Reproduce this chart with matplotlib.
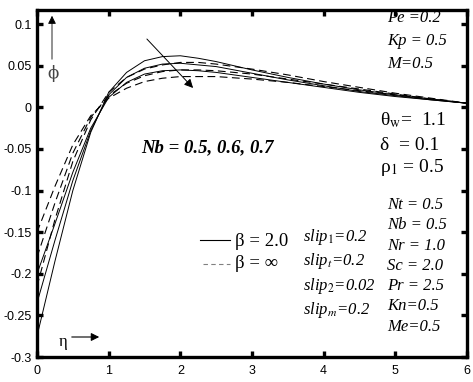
import matplotlib
matplotlib.use("Agg")
import matplotlib.pyplot as plt

plt.rcParams['mathtext.fontset'] = 'stix'

eta = [0, 0.25, 0.5, 0.75, 1.0, 1.25, 1.5, 1.75, 2.0, 2.25, 2.5, 3.0, 3.5, 4.0, 4.5, 5.0, 5.5, 6.0]

# beta = 2.0 (solid), Nb = 0.5, 0.6, 0.7
phi_s_05 = [-0.275, -0.185, -0.100, -0.030, 0.018, 0.042, 0.056, 0.061, 0.062, 0.059, 0.055, 0.045, 0.036, 0.028, 0.021, 0.015, 0.010, 0.005]
phi_s_06 = [-0.235, -0.160, -0.088, -0.028, 0.015, 0.036, 0.047, 0.052, 0.053, 0.051, 0.049, 0.041, 0.033, 0.026, 0.019, 0.014, 0.009, 0.005]
phi_s_07 = [-0.200, -0.140, -0.078, -0.025, 0.012, 0.030, 0.040, 0.044, 0.045, 0.044, 0.042, 0.036, 0.030, 0.024, 0.018, 0.013, 0.009, 0.005]
# beta = inf (dashed)
phi_d_05 = [-0.215, -0.135, -0.065, -0.015, 0.018, 0.036, 0.046, 0.051, 0.054, 0.054, 0.052, 0.046, 0.039, 0.031, 0.024, 0.017, 0.011, 0.005]
phi_d_06 = [-0.180, -0.115, -0.055, -0.012, 0.014, 0.029, 0.038, 0.043, 0.045, 0.045, 0.044, 0.040, 0.034, 0.028, 0.022, 0.016, 0.010, 0.005]
phi_d_07 = [-0.150, -0.095, -0.045, -0.010, 0.011, 0.023, 0.031, 0.035, 0.037, 0.037, 0.037, 0.034, 0.030, 0.025, 0.020, 0.015, 0.010, 0.005]

xticks = [0, 1, 2, 3, 4, 5, 6]
yticks = [-0.3, -0.25, -0.2, -0.15, -0.1, -0.05, 0, 0.05, 0.1]
yticklabels = ['-0.3', '-0.25', '-0.2', '-0.15', '-0.1', '-0.05', '0', '0.05', '0.1']

fig = plt.figure(figsize=(4.73, 3.82), dpi=100)
ax = fig.add_axes([37/473, 25/382, 430/473, 347/382])

for ys in (phi_s_05, phi_s_06, phi_s_07):
    ax.plot(eta, ys, color='black', lw=0.7, ls='-')
for ys in (phi_d_05, phi_d_06, phi_d_07):
    ax.plot(eta, ys, color='black', lw=0.8, ls=(0, (7, 4)))

ax.set_xlim(0, 6)
ax.set_ylim(-0.3, 0.117)
ax.set_xticks(xticks)
ax.set_xticklabels([str(t) for t in xticks])
ax.set_yticks(yticks)
ax.set_yticklabels(yticklabels)
for s in ax.spines.values():
    s.set_linewidth(2.4)
ax.tick_params(direction='in', length=4, width=2.4, top=True, right=True,
               labelsize=9, pad=4)
ax.tick_params(axis='x', pad=6)
for lab in ax.get_xticklabels() + ax.get_yticklabels():
    lab.set_fontfamily('Liberation Sans')

serif = 'Liberation Serif'

def px(x, y):
    return ((x - 37) / 430, (357 - y) / 347)

def T(x, y, s, size=12, style='italic', weight='normal', ha='left'):
    ax.text(*px(x, y), s, transform=ax.transAxes, fontsize=size, family=serif,
            style=style, weight=weight, ha=ha, va='center')

# top right block
T(387, 18, 'Pe =0.2')
T(387, 41, 'Kp = 0.5')
T(387, 64, 'M=0.5')

# theta, delta, rho block
T(380, 120, r'θ$_{\mathrm{w}}$=  1.1', size=14, style='normal')
T(380, 145, 'δ  = 0.1', size=14, style='normal')
T(380, 168, r'ρ$_{\mathrm{1}}$ = 0.5', size=14, style='normal')

# Nb label
T(141, 148, 'Nb = 0.5, 0.6, 0.7', size=13.5, weight='bold')

# legend
ax.plot([(200 - 37) / 71.667, (230 - 37) / 71.667], [(107 - 240) / 834] * 2,
        color='black', lw=0.8)
ax.plot([(203 - 37) / 71.667, (230 - 37) / 71.667], [(107 - 264) / 834] * 2,
        color='gray', lw=0.8, ls=(0, (4, 3)))
T(235, 241, 'β = 2.0', size=13.5, style='normal')
T(235, 263, 'β = ∞', size=13.5, style='normal')

# slip block
T(303, 237, r'slip$_{\mathit{1}}$=0.2')
T(303, 261, r'slip$_{\mathit{t}}$=0.2')
T(303, 286, r'slip$_{\mathit{2}}$=0.02')
T(303, 310, r'slip$_{\mathit{m}}$=0.2')

# right column
for i, s in enumerate(['Nt = 0.5', 'Nb = 0.5', 'Nr = 1.0', 'Sc = 2.0',
                       'Pr = 2.5', 'Kn=0.5', 'Me=0.5']):
    T(387, 205 + i * 20.3, s)

# phi arrow
ax.annotate('', xy=px(52, 13), xytext=px(52, 62), xycoords='axes fraction',
            textcoords='axes fraction',
            arrowprops=dict(arrowstyle='-|>', color='black', lw=0.6,
                            mutation_scale=12))
ax.text(*px(53, 73), 'ϕ', transform=ax.transAxes, fontsize=12, family='DejaVu Serif',
        ha='center', va='center', color='#444444')

# eta arrow
ax.text(*px(63, 342), 'η', transform=ax.transAxes, fontsize=12, family=serif,
        ha='center', va='center')
ax.annotate('', xy=px(102, 337), xytext=px(69, 337), xycoords='axes fraction',
            textcoords='axes fraction',
            arrowprops=dict(arrowstyle='-|>', color='black', lw=0.8,
                            mutation_scale=12))

# diagonal arrow
ax.annotate('', xy=px(195, 90), xytext=px(145, 37), xycoords='axes fraction',
            textcoords='axes fraction',
            arrowprops=dict(arrowstyle='-|>', color='black', lw=0.7,
                            mutation_scale=13))

fig.savefig('out.png', dpi=100)
